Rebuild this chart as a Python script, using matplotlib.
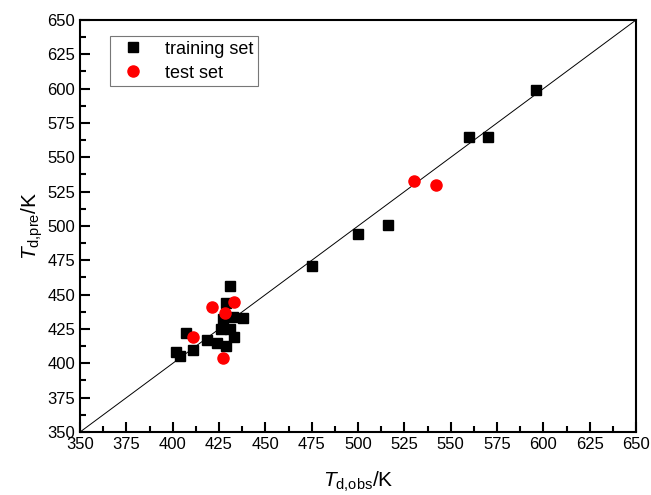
import matplotlib
matplotlib.use("Agg")
import matplotlib.pyplot as plt
from matplotlib.ticker import MultipleLocator

plt.rcParams['font.family'] = ['Liberation Sans', 'DejaVu Sans']
plt.rcParams['mathtext.fontset'] = 'custom'
plt.rcParams['mathtext.it'] = 'Liberation Sans:italic'
plt.rcParams['mathtext.rm'] = 'Liberation Sans'

train_obs = [596, 560, 570, 516, 500, 475, 438, 431, 429, 427, 432.5, 426, 431, 433, 407, 418.5, 424, 428.5, 411, 402, 404]
train_pre = [599, 565, 565, 501, 494, 471, 433, 456, 444, 432, 434, 425, 425, 419, 422, 417, 415, 412.5, 410, 408, 405.5]
test_obs = [421, 433, 428, 411, 427, 530, 542]
test_pre = [441, 444.5, 437, 419.5, 404, 533, 530]

fig = plt.figure(figsize=(6.51, 4.95), dpi=100)
ax = fig.add_axes([0.123, 0.1273, 0.854, 0.8323])

ax.plot([350, 650], [350, 650], color='black', lw=0.7, zorder=1)
ax.plot(train_obs, train_pre, 's', color='black', ms=7, ls='none', label='training set', zorder=2)
ax.plot(test_obs, test_pre, 'o', color='red', ms=8, ls='none', label='test set', zorder=3)

ax.set_xlim(350, 650)
ax.set_ylim(350, 650)
ax.xaxis.set_major_locator(MultipleLocator(25))
ax.yaxis.set_major_locator(MultipleLocator(25))
ax.xaxis.set_minor_locator(MultipleLocator(12.5))
ax.yaxis.set_minor_locator(MultipleLocator(12.5))
ax.tick_params(which='both', direction='in', top=False, right=False, labelsize=12, width=1.5)
ax.tick_params(which='major', length=7)
ax.tick_params(which='minor', length=4)
for s in ax.spines.values():
    s.set_linewidth(1.5)

ax.set_xlabel(r'$T_{\mathrm{d{,}obs}}$/K', fontsize=15, labelpad=13)
ax.set_ylabel(r'$T_{\mathrm{d{,}pre}}$/K', fontsize=15, labelpad=2)

leg = ax.legend(loc='upper left', bbox_to_anchor=(0.054, 0.961), fontsize=13, frameon=True,
                fancybox=False, edgecolor='#555555', handletextpad=0.8, handlelength=2.0,
                borderpad=0.25, labelspacing=0.4, borderaxespad=0.0)
leg.get_frame().set_linewidth(0.8)

fig.savefig('out.png', dpi=100)
